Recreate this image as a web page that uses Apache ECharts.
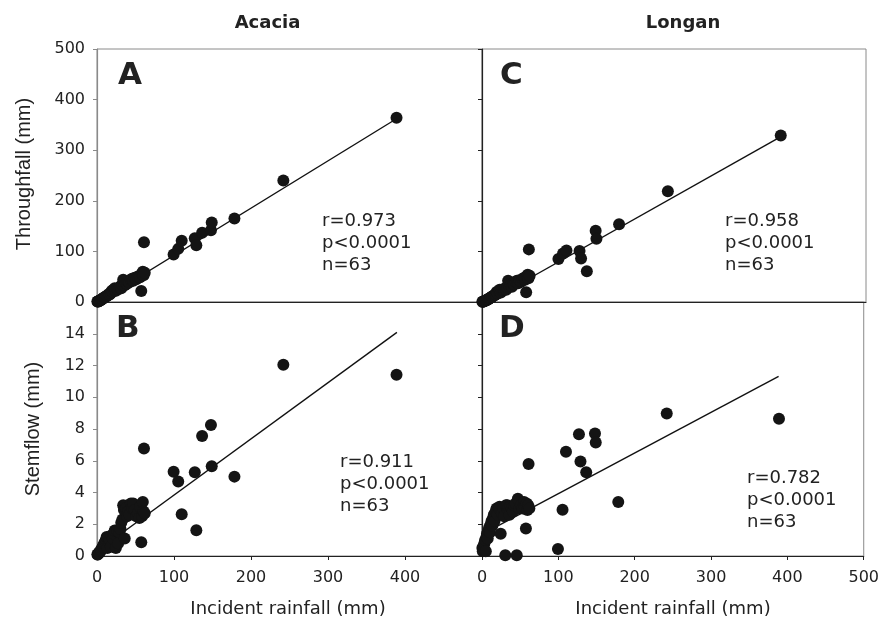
<!DOCTYPE html>
<html>
<head>
<meta charset="utf-8">
<script src="https://cdn.jsdelivr.net/npm/echarts@6/dist/echarts.min.js"></script>
<style>html,body{margin:0;padding:0;background:#fff}#c{width:882px;height:621px}</style>
</head>
<body>
<div id="c"></div>
<script>
const rainfall = [0.5, 1.0, 1.8, 2.5, 3.2, 4.0, 5.0, 5.8, 6.5, 7.5,
  8.5, 9.5, 10.5, 11.5, 12.5, 13.5, 14.5, 15.5, 16.5, 18.0,
  19.0, 20.5, 22.0, 23.0, 24.5, 26.0, 27.5, 29.0, 30.5, 31.5,
  33.0, 34.0, 35.0, 36.0, 37.5, 39.0, 40.5, 42.0, 44.0, 45.5,
  47.0, 49.0, 51.0, 53.0, 55.0, 56.0, 57.5, 58.5, 59.5, 60.5,
  61.0, 62.0,
  99.5, 105.5, 110, 127, 129, 136.5, 148, 149, 178.5, 242, 389];
const throughfallAcacia = [1, 0.8, 1.2, 2, 2.5, 3, 4, 5, 6, 6.5,
  8, 9, 9.5, 11, 12, 13, 14, 16, 15, 18,
  22, 20, 24, 27, 22, 26, 25, 28, 31, 27,
  34, 44, 40, 33, 37, 36, 41, 39, 44, 46,
  42, 48, 45, 50, 52, 49, 21.7, 56, 60, 53,
  118, 58,
  94, 105, 121, 126, 112, 137, 142, 157, 165, 240, 364];
const stemflowAcacia = [0.1, 0.1, 0.15, 0.2, 0.2, 0.3, 0.35, 0.4, 0.5, 0.6,
  0.7, 0.8, 0.9, 1.0, 1.2, 0.5, 1.1, 0.9, 1.0, 0.6,
  1.3, 1.1, 1.4, 1.6, 0.5, 1.6, 0.8, 1.5, 1.7, 2.1,
  2.3, 3.2, 2.9, 1.1, 3.0, 2.5, 2.8, 2.6, 3.3, 3.0,
  3.3, 2.9, 2.5, 2.7, 2.4, 3.1, 0.86, 2.5, 3.4, 2.8,
  6.77, 2.7,
  5.31, 4.69, 2.63, 5.27, 1.62, 7.56, 8.25, 5.65, 5.0, 12.04, 11.42];
const throughfallLongan = [0.3, 0.5, 1, 1.5, 2, 2.5, 3, 4, 4, 5,
  6, 7, 8, 9, 10, 11, 12, 13, 14, 15,
  20, 17, 22, 24, 19, 23, 25, 24, 27, 24,
  29, 42, 35, 30, 33, 30, 36, 35, 40, 42,
  37, 43, 40, 46, 48, 44, 19.5, 51, 54, 47,
  104, 52,
  85, 96, 102, 101, 86, 61, 141, 125, 153.5, 219, 329];
const stemflowLongan = [0.5, 0.3, 0.6, 0.4, 0.8, 1.0, 0.3, 1.2, 1.4, 1.1,
  1.6, 1.8, 1.5, 2.0, 2.2, 1.9, 2.4, 2.6, 2.2, 2.8,
  3.0, 2.6, 3.0, 3.1, 1.4, 2.7, 3.0, 2.5, 0.05, 3.2,
  3.2, 2.9, 3.1, 2.6, 3.1, 3.0, 2.8, 3.2, 3.3, 0.05,
  3.6, 3.0, 3.2, 3.0, 3.4, 3.1, 1.73, 3.3, 2.9, 3.2,
  5.79, 3.0,
  0.44, 2.92, 6.56, 7.67, 5.96, 5.27, 7.71, 7.15, 3.40, 8.98, 8.65];

// regression lines (A, B, C, D)
const fitSlope = [0.935, 0.0354, 0.855, 0.0256];
const fitIntercept = [-1.5, 0.30, -6, 1.37];
const fitStart = [0.5, 0.5, 7, 0.5];
const fitEnd = [389.5, 389.5, 387.5, 388.5];

const panelLetters = ['A', 'B', 'C', 'D'];
const statR = ['r=0.973', 'r=0.911', 'r=0.958', 'r=0.782'];
const statP = 'p<0.0001';
const statN = 'n=63';
const columnTitles = ['Acacia', 'Longan'];
const yNames = ['Throughfall (mm)', 'Stemflow (mm)'];
const xName = 'Incident rainfall (mm)';
const xTicks = [0, 500, 100];
const yTicksTop = [0, 500, 100];
const yTicksBottom = [0, 16, 2];

const panelValues = [throughfallAcacia, stemflowAcacia, throughfallLongan, stemflowLongan];

const grids = [
  {left: 97, top: 49, width: 385, height: 253},
  {left: 97, top: 302, width: 385, height: 254},
  {left: 482, top: 49, width: 384, height: 253},
  {left: 482, top: 302, width: 384, height: 254}
];
grids.forEach(g => { g.show = true; g.borderColor = '#8a8a8a'; g.borderWidth = 1; g.backgroundColor = 'transparent'; });

const FONT = '"DejaVu Sans", sans-serif';
const labelStyle = {color: '#222', fontFamily: FONT, fontSize: 16};

function xAxis(i) {
  const bottom = (i === 1 || i === 3);
  return {
    type: 'value', gridIndex: i, min: xTicks[0], max: xTicks[1], interval: xTicks[2],
    axisLine: {show: true, lineStyle: {color: '#222', width: 1.2}},
    axisTick: {show: bottom, length: 4, inside: false, lineStyle: {color: '#222'}},
    axisLabel: Object.assign({show: bottom, margin: 14, showMaxLabel: i === 3}, labelStyle),
    splitLine: {show: false}
  };
}
function yAxis(i) {
  const top = (i === 0 || i === 2);
  const t = top ? yTicksTop : yTicksBottom;
  const left = (i === 0 || i === 1);
  return {
    type: 'value', gridIndex: i, min: t[0], max: t[1], interval: t[2],
    axisLine: {show: true, lineStyle: {color: left ? '#8a8a8a' : '#222', width: 1.2}},
    axisTick: {show: true, length: 4, inside: false, lineStyle: {color: left ? '#8a8a8a' : '#222'}},
    axisLabel: Object.assign({show: left, margin: 12, showMaxLabel: top}, labelStyle),
    splitLine: {show: false}
  };
}

const series = [];
for (let i = 0; i < 4; i++) {
  series.push({
    type: 'line', xAxisIndex: i, yAxisIndex: i, symbol: 'none', silent: true,
    lineStyle: {color: '#111', width: 1.4}, z: 2,
    data: [[fitStart[i], fitSlope[i] * fitStart[i] + fitIntercept[i]],
           [fitEnd[i], fitSlope[i] * fitEnd[i] + fitIntercept[i]]]
  });
  series.push({
    type: 'scatter', xAxisIndex: i, yAxisIndex: i, symbol: 'circle', symbolSize: 12,
    itemStyle: {color: '#141414', opacity: 1}, z: 3,
    data: rainfall.map((r, k) => [r, panelValues[i][k]])
  });
}

function txt(x, y, text, font, align, rot) {
  return {type: 'text', x: x, y: y, rotation: rot || 0, z: 10,
    style: {text: text, font: font, fill: '#222', textAlign: align || 'left', textVerticalAlign: 'middle'}};
}
const statPos = [[322, 221], [340, 462], [725, 221], [747, 478]];
const letterPos = [[118, 76], [116, 329], [500, 76], [499, 329]];
const graphic = [];
for (let i = 0; i < 4; i++) {
  graphic.push(txt(letterPos[i][0], letterPos[i][1], panelLetters[i], 'bold 31px ' + FONT, 'left'));
  const [sx, sy] = statPos[i];
  graphic.push(txt(sx, sy, statR[i], '18px ' + FONT, 'left'));
  graphic.push(txt(sx, sy + 22, statP, '18px ' + FONT, 'left'));
  graphic.push(txt(sx, sy + 44, statN, '18px ' + FONT, 'left'));
}
graphic.push(txt(267.5, 23, columnTitles[0], 'bold 18px ' + FONT, 'center'));
graphic.push(txt(683, 23, columnTitles[1], 'bold 18px ' + FONT, 'center'));
graphic.push(txt(24, 174, yNames[0], '20px "Liberation Sans", Arial, sans-serif', 'center', Math.PI / 2));
graphic.push(txt(33, 429, yNames[1], '20px "Liberation Sans", Arial, sans-serif', 'center', Math.PI / 2));
graphic.push(txt(288, 609, xName, '18px ' + FONT, 'center'));
graphic.push(txt(673, 609, xName, '18px ' + FONT, 'center'));

const chart = echarts.init(document.getElementById('c'), null, {renderer: 'canvas'});
chart.setOption({
  animation: false,
  backgroundColor: '#fff',
  grid: grids,
  xAxis: [0, 1, 2, 3].map(xAxis),
  yAxis: [0, 1, 2, 3].map(yAxis),
  series: series,
  graphic: graphic
});
</script>
</body>
</html>
